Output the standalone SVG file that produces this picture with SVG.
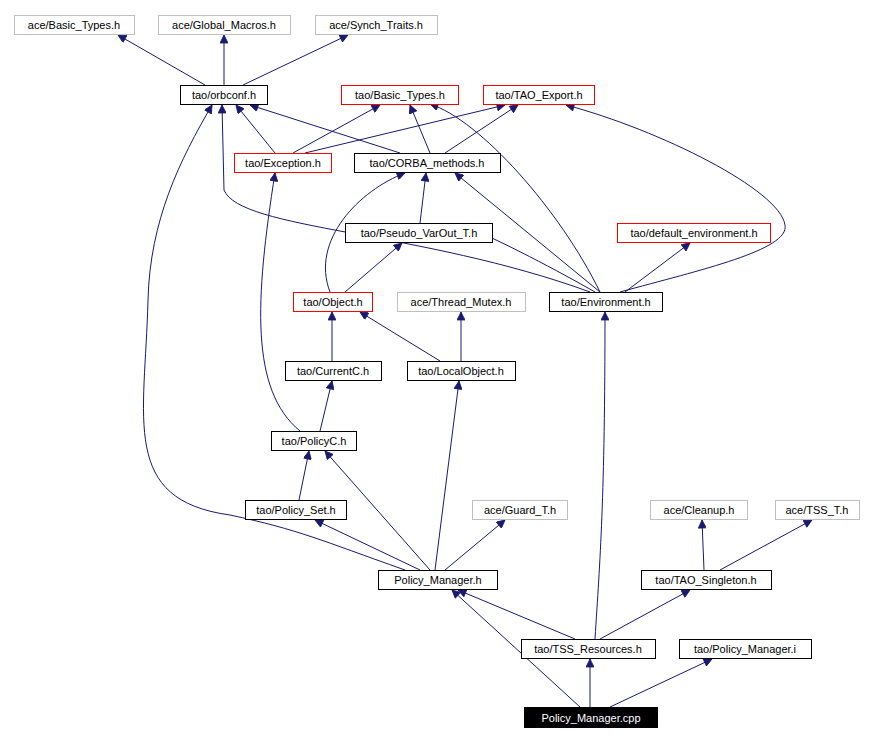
<svg xmlns="http://www.w3.org/2000/svg" width="872" height="742" viewBox="0 0 872 742">
<style>
.n rect{fill:#fff;stroke:#000;stroke-width:1}
.n.r rect{stroke:#f00}
.n.g rect{stroke:#bfbfbf}
.n.b rect{fill:#000}
.n text{font-family:"Liberation Sans",Arial,sans-serif;font-size:11px;text-anchor:middle;fill:#000}
.n.b text{fill:#fff}
#edges path{fill:none;stroke:#191970;stroke-width:1;marker-end:url(#a)}
</style>
<defs><marker id="a" viewBox="0 0 10 10" refX="10" refY="5" markerWidth="10" markerHeight="8" markerUnits="userSpaceOnUse" orient="auto"><path d="M0,0L10,5L0,10z" fill="#191970" stroke="#191970"/></marker></defs>
<rect width="872" height="742" fill="#fff"/>
<g id="edges">
<path d="M205,85L118,35"/>
<path d="M224,85L224,35"/>
<path d="M243,85L348,35"/>
<path d="M275,153L236,105"/>
<path d="M293,153L380,105"/>
<path d="M305,153L505,105"/>
<path d="M400,153L250,105"/>
<path d="M430,153L410,105"/>
<path d="M445,153L518,105"/>
<path d="M420,223L426,173"/>
<path d="M595,292C560,272 500,240 460,224" />
<path d="M600,292L455,173"/>
<path d="M590,292C420,230 240,230 224,190L222,105"/>
<path d="M600,292C560,210 480,120 430,104"/>
<path d="M620,292C700,270 790,250 785,225C780,190 660,130 566,105"/>
<path d="M625,292L690,243"/>
<path d="M330,292C310,240 360,190 405,173"/>
<path d="M345,292L402,243"/>
<path d="M332,361L332,312"/>
<path d="M440,361L360,312"/>
<path d="M461,361L461,312"/>
<path d="M320,431L332,381"/>
<path d="M300,431C250,390 255,300 275,173"/>
<path d="M299,500L309,451"/>
<path d="M405,570C320,540 300,530 230,515C120,500 145,420 148,300C150,220 180,160 212,105"/>
<path d="M420,570L315,520"/>
<path d="M430,570L325,451"/>
<path d="M435,570L459,381"/>
<path d="M445,570L505,520"/>
<path d="M704,570L702,520"/>
<path d="M720,570L812,520"/>
<path d="M575,639L458,590"/>
<path d="M600,639L690,590"/>
<path d="M595,639C600,560 605,500 605,312"/>
<path d="M580,707L452,590"/>
<path d="M590,707L590,659"/>
<path d="M610,707L712,659"/>
</g>
<g id="ace_Basic_Types" class="n g"><rect x="14.5" y="15.5" width="120" height="19"/><text x="74" y="29">ace/Basic_Types.h</text></g>
<g id="ace_Global_Macros" class="n g"><rect x="158.5" y="15.5" width="132" height="19"/><text x="224" y="29">ace/Global_Macros.h</text></g>
<g id="ace_Synch_Traits" class="n g"><rect x="315.5" y="15.5" width="122" height="19"/><text x="376" y="29">ace/Synch_Traits.h</text></g>
<g id="tao_orbconf" class="n"><rect x="180.5" y="85.5" width="87" height="19"/><text x="224" y="99">tao/orbconf.h</text></g>
<g id="tao_Basic_Types" class="n r"><rect x="341.5" y="85.5" width="117" height="19"/><text x="400" y="99">tao/Basic_Types.h</text></g>
<g id="tao_TAO_Export" class="n r"><rect x="483.5" y="85.5" width="111" height="19"/><text x="539" y="99">tao/TAO_Export.h</text></g>
<g id="tao_Exception" class="n r"><rect x="234.5" y="153.5" width="97" height="19"/><text x="283" y="167">tao/Exception.h</text></g>
<g id="tao_CORBA_methods" class="n"><rect x="354.5" y="153.5" width="146" height="19"/><text x="427" y="167">tao/CORBA_methods.h</text></g>
<g id="tao_Pseudo_VarOut_T" class="n"><rect x="345.5" y="223.5" width="147" height="19"/><text x="419" y="237">tao/Pseudo_VarOut_T.h</text></g>
<g id="tao_default_environment" class="n r"><rect x="617.5" y="223.5" width="153" height="19"/><text x="694" y="237">tao/default_environment.h</text></g>
<g id="tao_Object" class="n r"><rect x="293.5" y="292.5" width="79" height="19"/><text x="333" y="306">tao/Object.h</text></g>
<g id="ace_Thread_Mutex" class="n g"><rect x="397.5" y="292.5" width="128" height="19"/><text x="461" y="306">ace/Thread_Mutex.h</text></g>
<g id="tao_Environment" class="n"><rect x="549.5" y="292.5" width="113" height="19"/><text x="606" y="306">tao/Environment.h</text></g>
<g id="tao_CurrentC" class="n"><rect x="285.5" y="361.5" width="96" height="19"/><text x="333" y="375">tao/CurrentC.h</text></g>
<g id="tao_LocalObject" class="n"><rect x="407.5" y="361.5" width="108" height="19"/><text x="461" y="375">tao/LocalObject.h</text></g>
<g id="tao_PolicyC" class="n"><rect x="271.5" y="431.5" width="85" height="19"/><text x="314" y="445">tao/PolicyC.h</text></g>
<g id="tao_Policy_Set" class="n"><rect x="245.5" y="500.5" width="101" height="19"/><text x="296" y="514">tao/Policy_Set.h</text></g>
<g id="ace_Guard_T" class="n g"><rect x="472.5" y="500.5" width="95" height="19"/><text x="520" y="514">ace/Guard_T.h</text></g>
<g id="ace_Cleanup" class="n g"><rect x="650.5" y="500.5" width="97" height="19"/><text x="699" y="514">ace/Cleanup.h</text></g>
<g id="ace_TSS_T" class="n g"><rect x="775.5" y="500.5" width="84" height="19"/><text x="817" y="514">ace/TSS_T.h</text></g>
<g id="Policy_Manager_h" class="n"><rect x="378.5" y="570.5" width="119" height="19"/><text x="438" y="584">Policy_Manager.h</text></g>
<g id="tao_TAO_Singleton" class="n"><rect x="641.5" y="570.5" width="130" height="19"/><text x="706" y="584">tao/TAO_Singleton.h</text></g>
<g id="tao_TSS_Resources" class="n"><rect x="521.5" y="639.5" width="134" height="19"/><text x="588" y="653">tao/TSS_Resources.h</text></g>
<g id="tao_Policy_Manager_i" class="n"><rect x="679.5" y="639.5" width="132" height="19"/><text x="745" y="653">tao/Policy_Manager.i</text></g>
<g id="Policy_Manager_cpp" class="n b"><rect x="524.5" y="707.5" width="133" height="20"/><text x="591" y="722">Policy_Manager.cpp</text></g>
</svg>
